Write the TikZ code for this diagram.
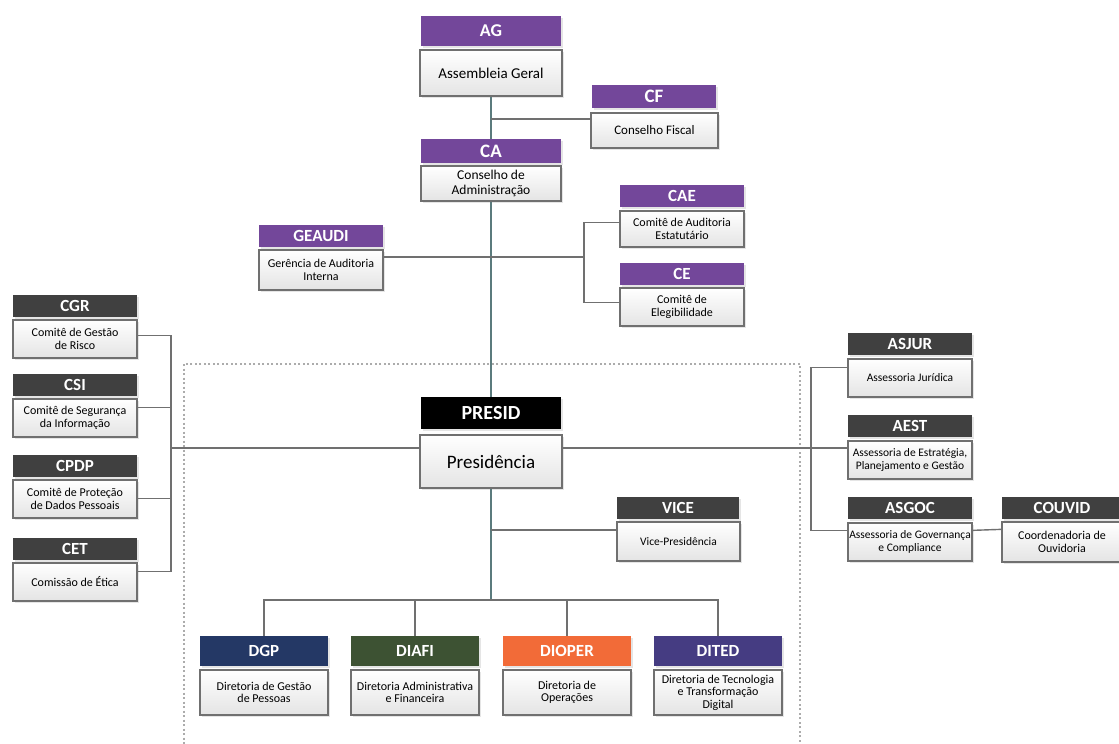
\documentclass[tikz,border=0pt]{standalone}
\usepackage{fontspec}
\setmainfont{Carlito}
\usetikzlibrary{calc}
\usetikzlibrary{shadows}
\definecolor{roxo}{HTML}{73479A}
\definecolor{cinza}{HTML}{404040}
\definecolor{azul}{HTML}{243865}
\definecolor{verde}{HTML}{3D5233}
\definecolor{laranja}{HTML}{F26B38}
\definecolor{anil}{HTML}{453C82}
\definecolor{borda}{HTML}{707070}
\definecolor{fundo}{HTML}{E4E4E4}
\definecolor{linha}{HTML}{707070}
\definecolor{tronco}{HTML}{5B7B7D}

\begin{document}
\begin{tikzpicture}[x=1pt, y=-1pt,
  head/.style={fill=#1, text=white, font=\bfseries\fontsize{17}{17}\selectfont,
    minimum width=124pt, minimum height=22pt, inner sep=0pt,
    drop shadow={shadow xshift=2pt, shadow yshift=-2pt, opacity=.2}},
  body/.style={draw=borda, line width=1.3pt, top color=white, bottom color=fundo,
    align=center, minimum width=124pt, minimum height=38pt, inner sep=1pt,
    font=\fontsize{12}{13.5}\selectfont,
    drop shadow={shadow xshift=2pt, shadow yshift=-2pt, opacity=.2}},
  link/.style={draw=linha, line width=1.4pt},
  spine/.style={draw=tronco, line width=1.4pt}]
\fill[white] (0,0) rectangle (1119,744);
\useasboundingbox (0,0) rectangle (1119,744);

% moldura da diretoria
\draw[gray!65, line width=1.3pt, dash pattern=on 2pt off 2.5pt] (184,364) rectangle (800,760);

% conselhos
\node[head=roxo, minimum width=140pt, minimum height=30pt, font=\bfseries\fontsize{18}{18}\selectfont] (ag-h) at (491,30.5) {AG};
\node[body, minimum width=142pt, minimum height=46pt, font=\fontsize{15}{17}\selectfont] (ag) at (491,73) {Assembleia Geral};
\node[head=roxo, minimum height=23pt, font=\bfseries\fontsize{19}{19}\selectfont] (cf-h) at (654,96.5) {CF};
\node[body, minimum width=127pt, minimum height=35pt, font=\fontsize{13}{15}\selectfont] (cf) at (654.5,130.5) {Conselho Fiscal};
\node[head=roxo, minimum width=140pt, minimum height=24pt, font=\bfseries\fontsize{19}{19}\selectfont] (ca-h) at (491,151) {CA};
\node[body, minimum width=140pt, minimum height=35pt, font=\fontsize{13.5}{15}\selectfont] (ca) at (491,183.5) {Conselho de\\Administração};
\node[head=roxo] (cae-h) at (682,196) {CAE};
\node[body, minimum height=36pt] (cae) at (682,229) {Comitê de Auditoria\\Estatutário};
\node[head=roxo] (ce-h) at (682,274) {CE};
\node[body] (ce) at (682,307) {Comitê de\\Elegibilidade};
\node[head=roxo] (geaudi-h) at (321,236) {GEAUDI};
\node[body, minimum height=40pt] (geaudi) at (321,270) {Gerência de Auditoria\\Interna};

% comites da esquerda
\foreach \n/\a/\t/\y in {cgr/CGR/{Comitê de Gestão\\de Risco}/306,
    csi/CSI/{Comitê de Segurança\\da Informação}/385,
    cpdp/CPDP/{Comitê de Proteção\\de Dados Pessoais}/466,
    cet/CET/{Comissão de Ética}/549}{
  \node[head=cinza] (\n-h) at (75,\y) {\a};
  \node[body] (\n) at (75,\y+33) {\t};
}

% presidencia
\node[head=black, minimum width=140pt, minimum height=32pt, font=\bfseries\fontsize{20}{20}\selectfont] (presid-h) at (491,413) {PRESID};
\node[body, minimum width=142pt, minimum height=53pt, font=\fontsize{19}{21}\selectfont] (presid) at (491,461.5) {Presidência};
\node[head=cinza, minimum width=122pt] (vice-h) at (678,507.5) {VICE};
\node[body, minimum width=123pt, minimum height=39pt, font=\fontsize{11.5}{13}\selectfont] (vice) at (678.5,541.5) {Vice-Presidência};

% assessorias
\foreach \n/\a/\t/\y in {asjur/ASJUR/{Assessoria Jurídica}/344,
    aest/AEST/{Assessoria de Estratégia,\\Planejamento e Gestão}/426,
    asgoc/ASGOC/{Assessoria de Governança\\e Compliance}/508}{
  \node[head=cinza] (\n-h) at (910,\y) {\a};
  \node[body, font=\fontsize{11.5}{13}\selectfont] (\n) at (910,\y+34) {\t};
}
\node[head=cinza, minimum width=120pt] (couvid-h) at (1062,508) {COUVID};
\node[body, minimum width=120pt, minimum height=40pt] (couvid) at (1062,542) {Coordenadoria de\\Ouvidoria};

% diretorias
\foreach \n/\a/\c/\t/\x in {dgp/DGP/azul/{Diretoria de Gestão\\de Pessoas}/264,
    diafi/DIAFI/verde/{Diretoria Administrativa\\e Financeira}/415,
    dioper/DIOPER/laranja/{Diretoria de\\Operações}/567,
    dited/DITED/anil/{Diretoria de Tecnologia\\e Transformação\\Digital}/718}{
  \node[head=\c, minimum width=128pt, minimum height=30pt, font=\bfseries\fontsize{17}{17}\selectfont] (\n-h) at (\x,651) {\a};
  \node[body, minimum width=128pt, minimum height=45pt, font=\fontsize{12}{12.5}\selectfont] (\n) at (\x,692.5) {\t};
}

% ligacoes
\coordinate (cfj) at (491,119);
\coordinate (audj) at (584,257);
\coordinate (comj) at (171,448);
\coordinate (asj) at (811,448);
\coordinate (vicej) at (491,530);
\coordinate (dirj) at (491,600);

\draw[spine] (ag) -- (ca-h);
\draw[spine] (ca) -- (presid-h);
\draw[spine] (presid) -- (dirj);
\draw[link] (cfj) -- (cfj -| cf.west);
\draw[link] (audj -| geaudi.east) -- (audj);
\draw[link] ([yshift=-12pt]cae.north west) -| (audj) |- ([yshift=-15pt]ce.north west);
\foreach \n/\d in {cgr/-16, csi/-9, cpdp/-19, cet/-9}
  \draw[link] ([yshift=\d pt]\n.north east) -| (comj);
\draw[link] (comj) -- (comj -| presid.west);
\draw[link] (asj -| presid.east) -- (asj -| aest.west);
\draw[link] ([yshift=-9pt]asjur.north west) -| (asj) |- ([yshift=-8pt]asgoc.north west);
\draw[link] ([yshift=-8pt]asgoc.north east) -- ([yshift=-8pt]couvid.north west);
\draw[link] (vicej) -- (vicej -| vice.west);
\foreach \n in {dgp,diafi,dioper,dited}
  \draw[link] (dirj) -| (\n-h.north);

\end{tikzpicture}
\end{document}
